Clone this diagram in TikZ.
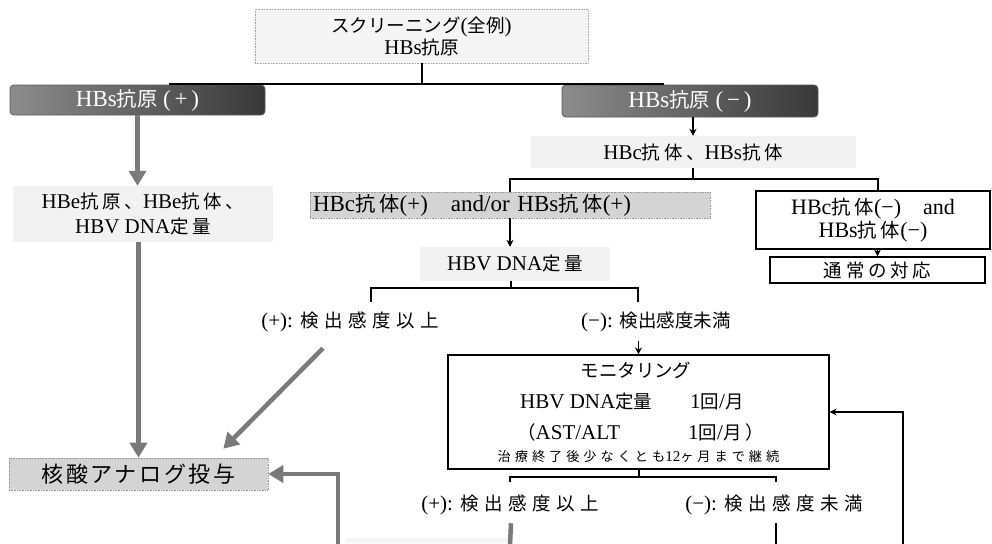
\documentclass[tikz,border=0pt]{standalone}
\usepackage{fontspec}
\setmainfont{Liberation Serif}
\newfontfamily\jp[Scale=0.88]{Noto Sans CJK JP}
\newfontfamily\jpw[Scale=0.88,LetterSpace=20]{Noto Sans CJK JP}
\newfontfamily\jpx[Scale=0.88,LetterSpace=30]{Noto Sans CJK JP}
\newfontfamily\jpn[Scale=0.88,LetterSpace=12]{Noto Sans CJK JP}
\usetikzlibrary{arrows.meta,calc}
\newcommand\J[1]{{\jp #1}}
\newcommand\W[1]{{\jpw #1}}
\newcommand\X[1]{{\jpx #1}}
\newcommand\N[1]{{\jpn #1}}
\begin{document}
\begin{tikzpicture}[x=1pt,y=-1pt,
 base/.style={inner sep=0pt,font=\fontsize{21}{22}\selectfont},
 conn/.style={line width=2pt},
 arr/.style={line width=1.6pt,-{Stealth[length=7pt,width=7pt]}},
 garr/.style={line width=4.5pt,draw=black!52,-{Triangle[length=15pt,width=17pt]}},
 garrline/.style={line width=4.5pt,draw=black!52},
 lightbg/.style={base,fill=black!5},
 graybox/.style={base,fill=black!17,draw=black!40,densely dotted,line width=0.6pt},
 darkbox/.style={base,rounded corners=4pt,left color=black!45,right color=black!78,draw=black!65,line width=0.8pt,text=white,font=\fontsize{23}{24}\selectfont},
 plainbox/.style={base,draw=black,line width=1.4pt,fill=white},
 lbl/.style={base,minimum height=20pt},
]
\fill[white] (0,0) rectangle (992,543);
\useasboundingbox (0,0) rectangle (992,543);
\fill[black!4] (345,538) rectangle (508,543);

% nodes
\node[base,fill=black!4,draw=black!35,densely dotted,line width=0.6pt,minimum width=333pt,minimum height=54pt,align=center] (top) at (421.5,36) {\J{スクリーニング}(\J{全例})\\HBs\J{抗原}};

\node[darkbox,minimum width=255pt,minimum height=30pt] (pos) at (137.5,100) {HBs\J{抗原}\ (\,+\,)};
\node[darkbox,minimum width=256pt,minimum height=32pt] (neg) at (690,101) {HBs\J{抗原}\ (\,−\,)};

\node[lightbg,minimum width=325pt,minimum height=32pt] (hbcs) at (693,152) {HBc\W{抗体、}HBs\W{抗体}};

\node[graybox,minimum width=400pt,minimum height=26pt,inner xsep=3pt,text width=394pt,align=left,font=\fontsize{23}{24}\selectfont] (hbcp) at (510,205) {HBc\W{抗体}(+)\quad and/or HBs\W{抗体}(+)};

\node[plainbox,minimum width=234pt,minimum height=58pt,align=center,font=\fontsize{22}{23}\selectfont] (hbneg) at (873,220) {HBc\W{抗体}(−)\quad and\\HBs\W{抗体}(−)};

\node[plainbox,line width=1.2pt,minimum width=215pt,minimum height=26pt] (usual) at (877.5,270) {\W{通常の対応}};

\node[lightbg,minimum width=260pt,minimum height=56pt,align=center,font=\fontsize{21}{25}\selectfont] (hbe) at (143,214) {HBe\W{抗原、}HBe\W{抗体、}\\HBV DNA\W{定量}};

\node[lightbg,minimum width=190pt,minimum height=34pt] (dna) at (515,264) {HBV DNA\W{定量}};

\node[lbl] (pl1) at (350,322) {(+): \X{検出感度以上}};
\node[lbl] (mi1) at (656,322) {(−): \J{検出感度未満}};

\node[plainbox,line width=1.2pt,minimum width=381pt,minimum height=114pt] (mon) at (638.5,412) {};
\node[base] (m1) at (636,370) {\J{モニタリング}};
\node[base,anchor=west] (m2a) at (520,402) {HBV DNA\J{定量}};
\node[base,anchor=west] (m2b) at (690,402) {1\W{回}/\W{月}};
\node[base,anchor=west] (m3a) at (517,432) {\J{（}AST/ALT};
\node[base,anchor=west] (m3b) at (688,432) {1\W{回}/\W{月）}};
\node[base,font=\fontsize{15}{16}\selectfont] (m4) at (638.5,457) {\X{治療終了後少なくとも}12\X{ヶ月まで継続}};

\node[lbl] (pl2) at (510,505) {(+): \X{検出感度以上}};
\node[lbl] (mi2) at (774,505) {(−): \X{検出感度未満}};

\node[graybox,minimum width=259pt,minimum height=32pt,font=\fontsize{25}{26}\selectfont] (nuc) at (138.5,474) {\N{核酸アナログ投与}};

% connectors
\coordinate (hj1) at (421.5,84);
\draw[conn] (top.south) -- (hj1);
\draw[conn] ([xshift=32.5pt]pos.north) |- (hj1) -| ([xshift=-27pt]neg.north);

\draw[arr] (neg.south -| hbcs.north) -- (hbcs.north);

\coordinate (hj2) at (693,179);
\draw[conn] (hbcs.south) -- (hj2);
\draw[conn] (hbcp.north) |- (hj2) -| ([xshift=5pt]hbneg.north);

\draw[arr] (hbneg.south -| usual.north) -- (usual.north);
\draw[arr] (hbcp.south) -- (hbcp.south |- dna.north);

\coordinate (hj3) at (511,288);
\draw[conn] (dna.south -| hj3) -- (hj3);
\draw[conn] ([xshift=21pt,yshift=10pt]pl1.north) |- (hj3) -| ([xshift=-18pt,yshift=10pt]mi1.north);

\draw[arr] ($(mi1.south -| mon.north)+(0,9)$) -- (mon.north);

\coordinate (hj4) at (638.5,477);
\draw[conn] (mon.south) -- (hj4);
\draw[conn] ([yshift=13pt]pl2.north) |- (hj4) -| ([xshift=2pt,yshift=13pt]mi2.north);

\coordinate (bL) at (338,545);
\coordinate (bM) at (511,545);
\coordinate (bR) at (776,545);
\coordinate (bF) at (903,545);
\draw[garr] (bL) |- (nuc.east);
\draw[garrline] ($(pl2.south)+(1,8)$) -- (pl2.south |- bM);
\draw[conn] ($(mi2.south)+(2,8)$) -- ($(mi2.south |- bR)+(2,0)$);
\draw[arr] (bF) |- (mon.east);

\draw[garr] (pos.south) -- (pos.south |- hbe.north);
\draw[garr] (hbe.south -| nuc.north) -- (nuc.north);
\draw[garr] ($(pl1.south)+(-27,16)$) -- ($(nuc.north east)+(-45,-9)$);
\end{tikzpicture}
\end{document}
